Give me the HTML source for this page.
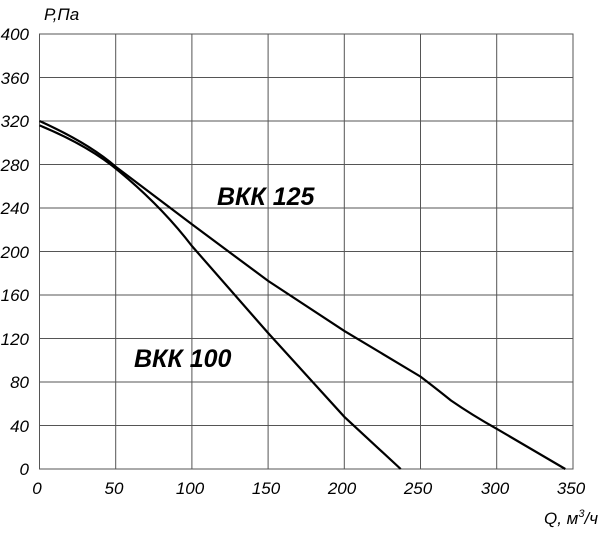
<!DOCTYPE html><html><head><style>body{margin:0;background:#fff}svg text{font-family:"Liberation Sans",sans-serif;font-style:italic}</style></head><body>
<svg width="600" height="529" viewBox="0 0 600 529">
<g stroke="#555" stroke-width="1" fill="none">
<rect x="39.5" y="34" width="533.5" height="435"/>
<path d="M115.7 34V469M191.9 34V469M268.1 34V469M344.3 34V469M420.5 34V469M496.7 34V469M39.5 77.5H573M39.5 121H573M39.5 164.5H573M39.5 208H573M39.5 251.5H573M39.5 295H573M39.5 338.5H573M39.5 382H573M39.5 425.5H573"/>
</g>
<g stroke="#000" stroke-width="2.2" fill="none">
<path d="M39.5 125.4 C75 140,100 155,120 172 C150 197,172 220,191.9 246 L268.1 333 L344.3 416.8 L400.7 469"/>
<path d="M39.5 121 C75 137,100 153,115.7 166.7 L191.9 224.3 L268.1 280.9 L344.3 330.9 L420.5 376.6 Q438 390,451 400.5 Q472 415,496.7 428.8 L565.3 469"/>
</g>
<g font-size="17" fill="#000" text-anchor="end">
<text x="29" y="40">400</text><text x="29" y="84">360</text><text x="29" y="127">320</text><text x="29" y="171">280</text><text x="29" y="214">240</text><text x="29" y="258">200</text><text x="29" y="301">160</text><text x="29" y="345">120</text><text x="29" y="388">80</text><text x="29" y="432">40</text><text x="29" y="475">0</text>
</g>
<g font-size="17" fill="#000" text-anchor="middle">
<text x="37" y="494">0</text><text x="114" y="494">50</text><text x="190" y="494">100</text><text x="266" y="494">150</text><text x="342" y="494">200</text><text x="418" y="494">250</text><text x="495" y="494">300</text><text x="571" y="494">350</text>
</g>
<text x="44" y="20" font-size="17">Р,Па</text>
<text x="598" y="524" font-size="17" text-anchor="end">Q, м<tspan font-size="11" dy="-7">3</tspan><tspan dy="7">/ч</tspan></text>
<text x="217" y="205" font-size="25" font-weight="bold">ВКК 125</text>
<text x="134" y="367" font-size="25" font-weight="bold">ВКК 100</text>
</svg></body></html>
